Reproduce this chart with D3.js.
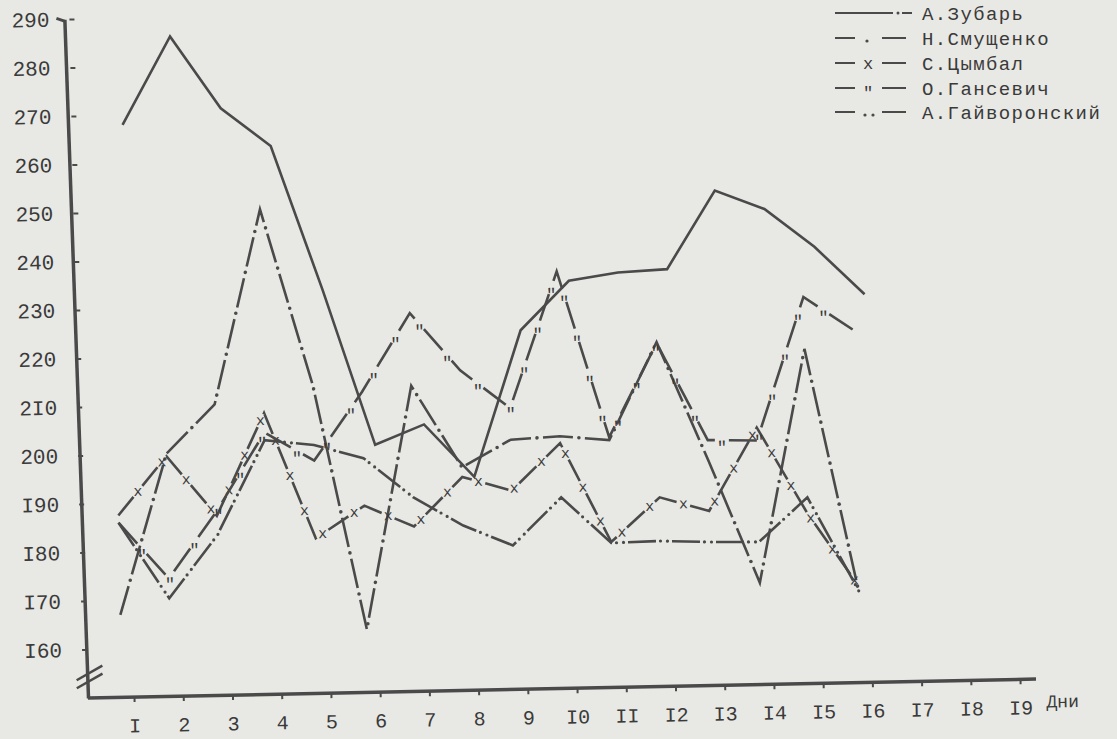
<!DOCTYPE html>
<html><head><meta charset="utf-8">
<script src="https://cdn.jsdelivr.net/npm/d3@7"></script>
<style>
html,body{margin:0;padding:0;background:#e8e8e4;}
svg{display:block;}
text{font-family:"Liberation Mono","DejaVu Sans Mono",monospace;fill:#3a3a3a;}
</style></head><body>
<svg id="chart" width="1117" height="739"></svg>
<script>
// ---------- data ----------
const days = [1,2,3,4,5,6,7,8,9,10,11,12,13,14,15,16];
const dayTicks = [1,2,3,4,5,6,7,8,9,10,11,12,13,14,15,16,17,18,19];
const xTickLabels = ["I","2","3","4","5","6","7","8","9","I0","II","I2","I3","I4","I5","I6","I7","I8","I9"];
const xAxisTitle = "Дни";
const yTickValues = [160,170,180,190,200,210,220,230,240,250,260,270,280,290];
const yTickLabels = ["I60","I70","I80","I90","200","2I0","220","230","240","250","260","270","280","290"];
const seriesNames = ["А.Зубарь","Н.Смущенко","С.Цымбал","О.Гансевич","А.Гайворонский"];
const zubar       = [268,286,271,263,233,201,205,194,224,234,235.5,236,252,248,240,230];
const smushchenko = [167,200,210,250,213.6,163,213,196,201.5,202,201,221,196.5,171,219,169];
const tsymbal     = [187.5,199.5,187,208,182,188.5,184,194,191,200.6,180,189,186,203,185,170];
const gansevich   = [186,174.3,188,204,198,212,228,216,208,236,201.6,220.8,200.6,200.3,229.7,222.7];
const gaivoronsky = [186,170.2,183,202.4,201.2,198.3,190,184,179.7,189.4,179.8,180,179.6,179.4,188.4,169];

// ---------- layout ----------
const W = 1117, H = 739;
const ox = 88, oy = 698;      // axis corner
const sk = 0.02;              // scan rotation
const ink = "#4a4a4a";

const svg = d3.select("#chart");
svg.append("rect").attr("width", W).attr("height", H).attr("fill", "#e8e8e4");

const g = svg.append("g")
  .attr("transform", `matrix(1,${-sk},${sk},1,${-sk*oy},${sk*ox})`);

const x = d3.scaleLinear().domain([1, 19]).range([134, 1020]);
const y = d3.scaleLinear().domain([150, 290]).range([oy, 19]);

// x axis
const xAxis = d3.axisBottom(x).tickValues(dayTicks)
  .tickFormat((d, i) => xTickLabels[i]).tickSize(5).tickPadding(16).tickSizeOuter(0);
const gx = g.append("g").attr("transform", `translate(0,${oy})`).call(xAxis);
gx.select(".domain").remove();
gx.append("line").attr("x1", ox).attr("x2", 1036).attr("y1", 0).attr("y2", 0)
  .attr("stroke", ink).attr("stroke-width", 3.5);
gx.selectAll(".tick line").attr("stroke", ink).attr("stroke-width", 2);
gx.selectAll(".tick text").style("font-size", "20px").attr("fill", "#3a3a3a");
gx.append("text").attr("x", 1046).attr("y", 16).attr("dy", "0.71em")
  .attr("text-anchor", "start")
  .style("font-size", "18px").attr("fill", "#3a3a3a").text(xAxisTitle);

// y axis
const yAxis = d3.axisLeft(y).tickValues(yTickValues)
  .tickFormat((d, i) => yTickLabels[i]).tickSize(5).tickPadding(20).tickSizeOuter(0);
const gy = g.append("g").attr("transform", `translate(${ox},0)`).call(yAxis);
gy.select(".domain").attr("stroke", ink).attr("stroke-width", 3.5)
  .attr("transform", `translate(0,${oy}) skewX(0.85) translate(0,${-oy})`);
gy.selectAll(".tick line").attr("stroke", ink).attr("stroke-width", 2);
gy.selectAll(".tick text").style("font-size", "21px").attr("fill", "#3a3a3a");
// top hook of the axis
gy.append("line").attr("x1", -18).attr("y1", y(290) - 1).attr("x2", -10).attr("y2", y(290) + 2)
  .attr("stroke", ink).attr("stroke-width", 3);

// axis break marks
[0, 8].forEach(o => {
  g.append("line").attr("x1", ox - 11).attr("y1", oy - 10 - o).attr("x2", ox + 15).attr("y2", oy - 24 - o)
    .attr("stroke", ink).attr("stroke-width", 2.5);
});

// ---------- series ----------
function drawSeries(vals, opt) {
  const line = d3.line().x((d) => x(d[0]) + (opt.shift || 0)).y((d) => y(d[1]));
  const pts = days.map((d, i) => [d, vals[i]]);
  const p = g.append("path").datum(pts).attr("d", line)
    .attr("fill", "none").attr("stroke", ink).attr("stroke-width", 2.6)
    .attr("stroke-linejoin", "miter")
    .attr("stroke-dasharray", opt.dash ? opt.dash.join(",") : null);
  if (!opt.mark) return;
  const node = p.node();
  const L = node.getTotalLength();
  const period = opt.dash[0] + opt.dash[1];
  for (let t = opt.dash[0] + opt.dash[1] / 2; t < L; t += period) {
    const a = node.getPointAtLength(t);
    const b = node.getPointAtLength(Math.min(L, t + 1));
    const c = node.getPointAtLength(Math.max(0, t - 1));
    const ang = Math.atan2(b.y - c.y, b.x - c.x);
    if (opt.mark === "dot") {
      g.append("circle").attr("cx", a.x).attr("cy", a.y).attr("r", 1.8).attr("fill", ink);
    } else if (opt.mark === "dots") {
      [-3.5, 3.5].forEach(o => g.append("circle")
        .attr("cx", a.x + o * Math.cos(ang)).attr("cy", a.y + o * Math.sin(ang))
        .attr("r", 1.6).attr("fill", ink));
    } else {
      g.append("text").attr("x", a.x).attr("y", a.y).attr("dy", opt.mark === "\"" ? "0.75em" : "0.3em")
        .attr("text-anchor", "middle").style("font-size", opt.mark === "\"" ? "17px" : "15px")
        .attr("fill", ink).text(opt.mark);
    }
  }
}

drawSeries(zubar, {});
drawSeries(smushchenko, {dash: [30, 12], mark: "dot", shift: -12});
drawSeries(tsymbal, {dash: [24, 14], mark: "x", shift: -12});
drawSeries(gansevich, {dash: [28, 14], mark: "\"", shift: -12});
drawSeries(gaivoronsky, {dash: [28, 16], mark: "dots", shift: -12});

// ---------- legend ----------
const leg = svg.append("g");
const rowsY = [13, 38, 63, 88, 112];
const legMarks = [null, "dot", "x", "\"", "dots"];
seriesNames.forEach((name, i) => {
  const yy = rowsY[i];
  const r = leg.append("g");
  if (i === 0) {
    r.append("line").attr("x1", 835).attr("x2", 893).attr("y1", yy).attr("y2", yy)
      .attr("stroke", ink).attr("stroke-width", 2);
    r.append("circle").attr("cx", 898).attr("cy", yy).attr("r", 1.5).attr("fill", ink);
    r.append("line").attr("x1", 902).attr("x2", 912).attr("y1", yy).attr("y2", yy)
      .attr("stroke", ink).attr("stroke-width", 2);
  } else {
    r.append("line").attr("x1", 835).attr("x2", 855).attr("y1", yy).attr("y2", yy)
      .attr("stroke", ink).attr("stroke-width", 2);
    r.append("line").attr("x1", 882).attr("x2", 906).attr("y1", yy).attr("y2", yy)
      .attr("stroke", ink).attr("stroke-width", 2);
    const m = legMarks[i];
    if (m === "dot") r.append("circle").attr("cx", 867).attr("cy", yy + 3).attr("r", 1.6).attr("fill", ink);
    else if (m === "dots") {
      r.append("circle").attr("cx", 865).attr("cy", yy + 3).attr("r", 1.6).attr("fill", ink);
      r.append("circle").attr("cx", 873).attr("cy", yy + 3).attr("r", 1.6).attr("fill", ink);
    } else r.append("text").attr("x", 868).attr("y", yy).attr("dy", m === "\"" ? "0.6em" : "0.35em")
      .attr("text-anchor", "middle").style("font-size", "17px").text(m);
  }
  r.append("text").attr("x", 922).attr("y", yy).attr("dy", "0.35em")
    .style("font-size", "19px").style("letter-spacing", "1.4px").text(name);
});
</script>
</body></html>
